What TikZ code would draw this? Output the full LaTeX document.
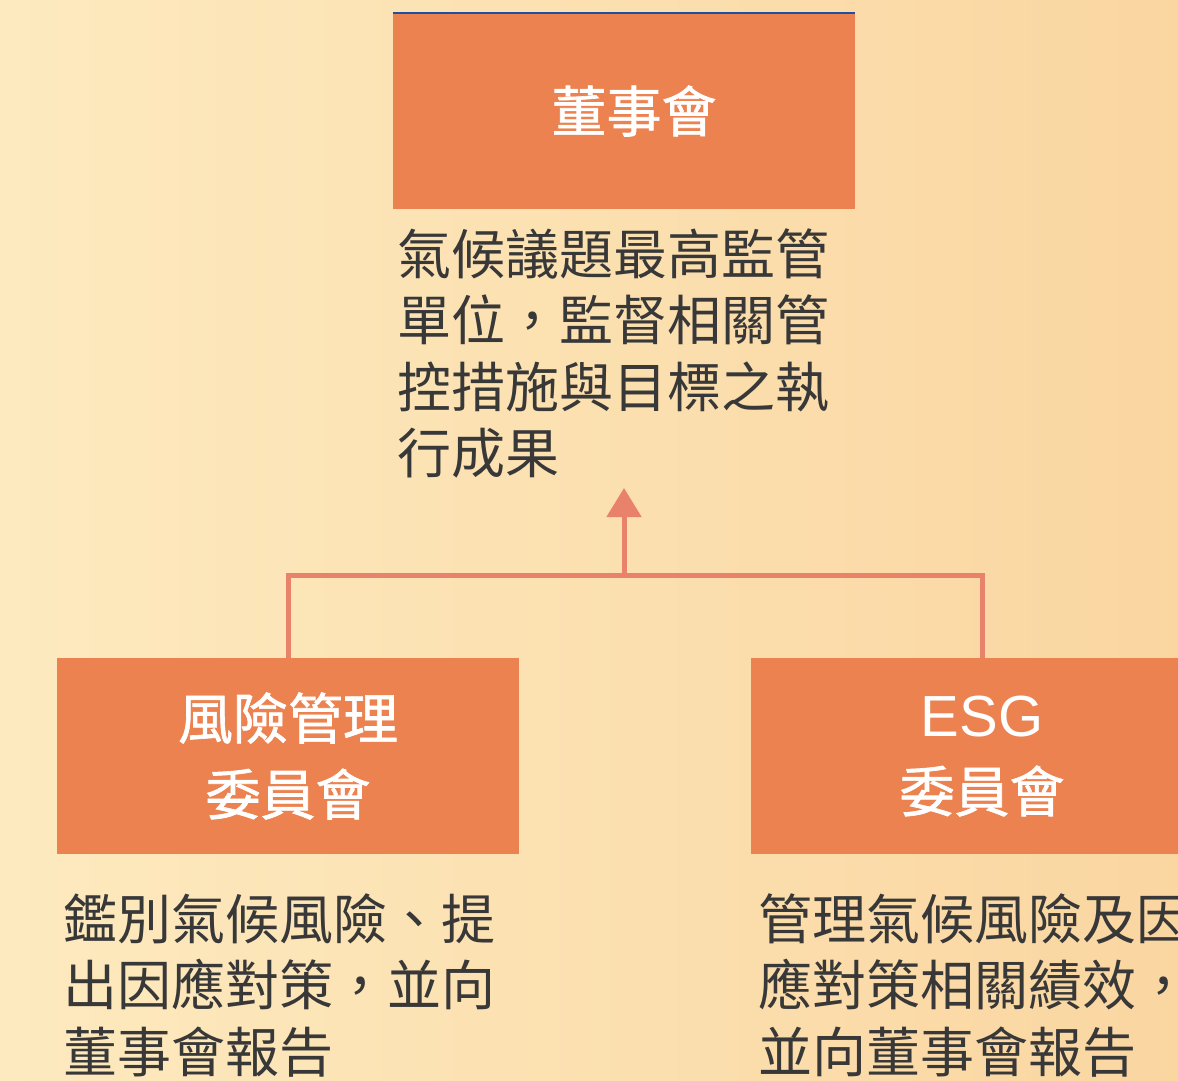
\documentclass[tikz,border=0pt]{standalone}
\usepackage{fontspec}
\setmainfont{Noto Sans CJK TC}
\newfontfamily\titlefont[FakeBold=1.2]{Noto Sans CJK TC}
\newfontfamily\latinfont{Liberation Sans}
\usetikzlibrary{arrows.meta}
\definecolor{bgL}{HTML}{FDEABF}
\definecolor{bgR}{HTML}{FAD6A1}
\definecolor{boxc}{HTML}{EB8250}
\definecolor{linec}{HTML}{E8826A}
\definecolor{txt}{HTML}{383838}
\definecolor{topline}{HTML}{1F4FA0}
\tikzset{
  orgbox/.style={fill=boxc, draw=none, minimum width=462pt, minimum height=196pt, inner sep=0pt,
    text=white, align=center, font=\fontsize{55}{76}\selectfont\titlefont},
  desc/.style={anchor=north west, align=left, inner sep=0pt, text=txt,
    font=\fontsize{54}{66.5}\selectfont},
  conn/.style={draw=linec, line width=5pt}
}
\begin{document}
\begin{tikzpicture}[x=1pt,y=-1pt]
\useasboundingbox (0,0) rectangle (1178,1080);
\clip (0,0) rectangle (1178,1080);
\shade[left color=bgL, right color=bgR] (0,0) rectangle (1178,1080);
\node[orgbox] (board) at (624,111) {\hspace*{20pt}董事會};
\draw[topline, line width=1.5pt] (board.north west) -- (board.north east);
\node[desc] (bdesc) at (397,228) {氣候議題最高監管\\單位，監督相關管\\控措施與目標之執\\行成果};
\node[orgbox] (risk) at (288,756) {風險管理\\委員會};
\node[orgbox] (esg) at (982,756) {{\latinfont\fontsize{58}{76}\selectfont ESG}\\委員會};
\node[desc] (rdesc) at (63,893) {鑑別氣候風險、提\\出因應對策，並向\\董事會報告};
\node[desc] (edesc) at (758,893) {管理氣候風險及因\\應對策相關績效，\\並向董事會報告};
\coordinate (j) at (624,575);
\coordinate (tip) at (624,488);
\draw[conn] (risk.north) |- (j) -| (esg.north);
\draw[conn, -{Triangle[width=34pt,length=29pt]}] (j) -- (tip);
\end{tikzpicture}
\end{document}
